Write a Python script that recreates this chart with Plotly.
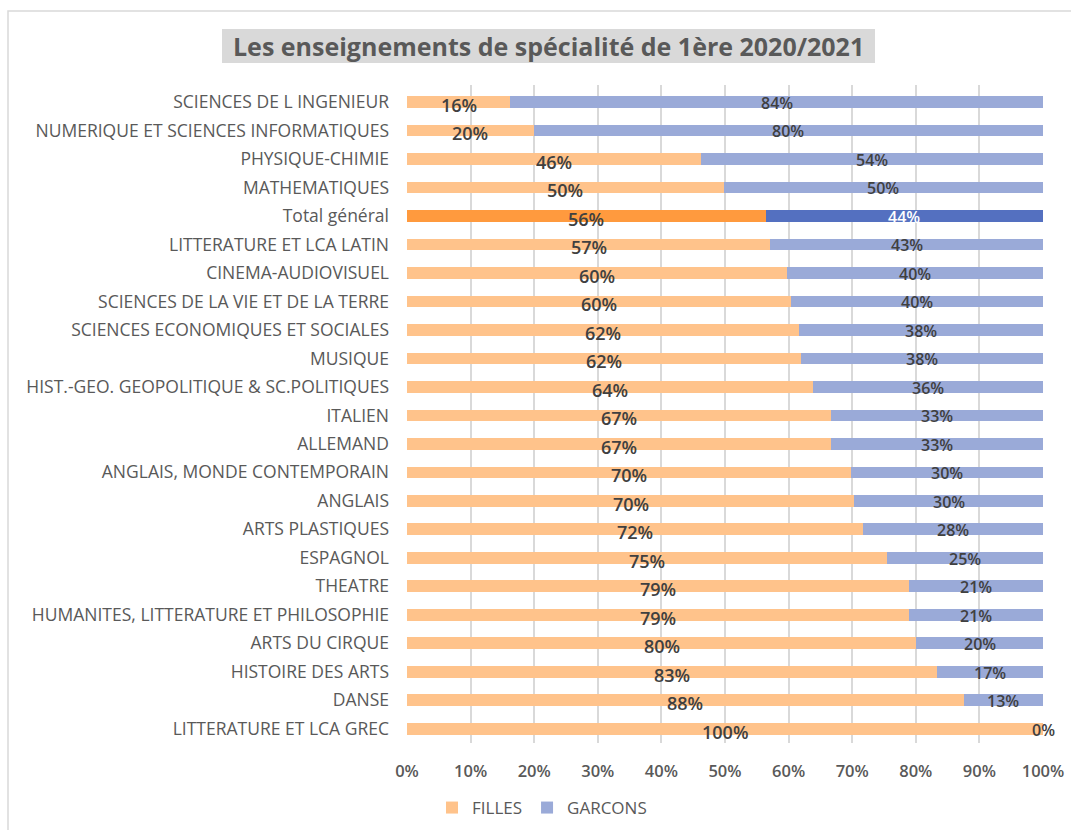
import plotly.graph_objects as go

categories = [
    "SCIENCES DE L INGENIEUR",
    "NUMERIQUE ET SCIENCES INFORMATIQUES",
    "PHYSIQUE-CHIMIE",
    "MATHEMATIQUES",
    "Total général",
    "LITTERATURE ET LCA LATIN",
    "CINEMA-AUDIOVISUEL",
    "SCIENCES DE LA VIE ET DE LA TERRE",
    "SCIENCES ECONOMIQUES ET SOCIALES",
    "MUSIQUE",
    "HIST.-GEO. GEOPOLITIQUE & SC.POLITIQUES",
    "ITALIEN",
    "ALLEMAND",
    "ANGLAIS, MONDE CONTEMPORAIN",
    "ANGLAIS",
    "ARTS PLASTIQUES",
    "ESPAGNOL",
    "THEATRE",
    "HUMANITES, LITTERATURE ET PHILOSOPHIE",
    "ARTS DU CIRQUE",
    "HISTOIRE DES ARTS",
    "DANSE",
    "LITTERATURE ET LCA GREC",
]
filles = [16.2, 19.9, 46.3, 49.8, 56.4, 57.1, 59.8, 60.4, 61.7, 61.9, 63.9, 66.7,
          66.7, 69.8, 70.3, 71.7, 75.4, 79.0, 79.0, 80.1, 83.3, 87.5, 100.0]
garcons = [83.8, 80.1, 53.7, 50.2, 43.6, 42.9, 40.2, 39.6, 38.3, 38.1, 36.1, 33.3,
           33.3, 30.2, 29.7, 28.3, 24.6, 21.0, 21.0, 19.9, 16.7, 12.5, 0.0]
filles_labels = ["16%", "20%", "46%", "50%", "56%", "57%", "60%", "60%", "62%", "62%",
                 "64%", "67%", "67%", "70%", "70%", "72%", "75%", "79%", "79%", "80%",
                 "83%", "88%", "100%"]
garcons_labels = ["84%", "80%", "54%", "50%", "44%", "43%", "40%", "40%", "38%", "38%",
                  "36%", "33%", "33%", "30%", "30%", "28%", "25%", "21%", "21%", "20%",
                  "17%", "13%", "0%"]
x_ticks = [0, 10, 20, 30, 40, 50, 60, 70, 80, 90, 100]
x_ticklabels = ["0%", "10%", "20%", "30%", "40%", "50%", "60%", "70%", "80%", "90%", "100%"]
title_text = "Les enseignements de spécialité de 1ère 2020/2021"

FONT = "Open Sans"
C_F, C_G = "#FFC38B", "#9AAAD8"
C_F_TOT, C_G_TOT = "#FF9A3E", "#5470C0"
LABEL_COL = "#404040"
TXT_COL = "#595959"

col_f = [C_F_TOT if c == "Total général" else C_F for c in categories]
col_g = [C_G_TOT if c == "Total général" else C_G for c in categories]

fig = go.Figure()
fig.add_trace(go.Bar(y=categories, x=filles, name="FILLES", orientation="h",
                     marker=dict(color=col_f, line=dict(width=0)), hoverinfo="x+y"))
fig.add_trace(go.Bar(y=categories, x=garcons, name="GARCONS", orientation="h",
                     marker=dict(color=col_g, line=dict(width=0)), hoverinfo="x+y"))

annotations = []
for c, f, g, lf, lg in zip(categories, filles, garcons, filles_labels, garcons_labels):
    annotations.append(dict(x=f / 2, y=c, xref="x", yref="y", text=lf, showarrow=False,
                            yshift=-3, font=dict(family=FONT, size=18, color=LABEL_COL, weight=600)))
    gcol = "white" if c == "Total général" else LABEL_COL
    annotations.append(dict(x=f + g / 2, y=c, xref="x", yref="y", text=lg, showarrow=False,
                            yshift=-1, font=dict(family=FONT, size=16, color=gcol, weight=600)))

W, H = 1071, 830
ml, mr, mt, mb = 407, 28, 85, 87
pw, ph = W - ml - mr, H - mt - mb

def px_to_paper_x(px):
    return (px - ml) / pw

def px_to_paper_y(py):
    return (H - mb - py) / ph

annotations.append(dict(x=px_to_paper_x(548), y=px_to_paper_y(46), xref="paper", yref="paper",
                        xanchor="center", yanchor="middle",
                        text=title_text, showarrow=False,
                        font=dict(family=FONT, size=25, color=TXT_COL, weight=700)))

shapes = [
    dict(type="rect", xref="paper", yref="paper",
         x0=px_to_paper_x(8), x1=px_to_paper_x(1080),
         y0=px_to_paper_y(840), y1=px_to_paper_y(11),
         line=dict(color="#D9D9D9", width=1.5), fillcolor="rgba(0,0,0,0)", layer="below"),
    dict(type="rect", xref="paper", yref="paper",
         x0=px_to_paper_x(222), x1=px_to_paper_x(875),
         y0=px_to_paper_y(63), y1=px_to_paper_y(29),
         line=dict(width=0), fillcolor="#D9D9D9", layer="below"),
]

fig.update_layout(
    width=W, height=H,
    margin=dict(l=ml, r=mr, t=mt, b=mb, autoexpand=False),
    barmode="stack", bargap=0.59,
    plot_bgcolor="white", paper_bgcolor="white",
    font=dict(family=FONT, color=TXT_COL),
    annotations=annotations, shapes=shapes,
    showlegend=True,
    legend=dict(orientation="h", x=px_to_paper_x(432), xanchor="left",
                y=px_to_paper_y(808), yanchor="middle",
                font=dict(family=FONT, size=17, color=TXT_COL),
                itemwidth=30, traceorder="normal"),
    xaxis=dict(range=[0, 100], tickvals=x_ticks, ticktext=x_ticklabels,
               showgrid=True, gridcolor="#D9D9D9", gridwidth=1.5, zeroline=False,
               showline=False, ticks="", ticklabelstandoff=16, automargin=False,
               tickfont=dict(family=FONT, size=16.5, color=TXT_COL, weight=600)),
    yaxis=dict(autorange="reversed", type="category", showgrid=False, zeroline=False,
               showline=False, ticks="", ticklabelstandoff=17, automargin=False,
               tickfont=dict(family=FONT, size=17.5, color=TXT_COL)),
)

fig.write_html("out.html", config={"displayModeBar": False},
               post_script="document.body.style.margin='0';")
